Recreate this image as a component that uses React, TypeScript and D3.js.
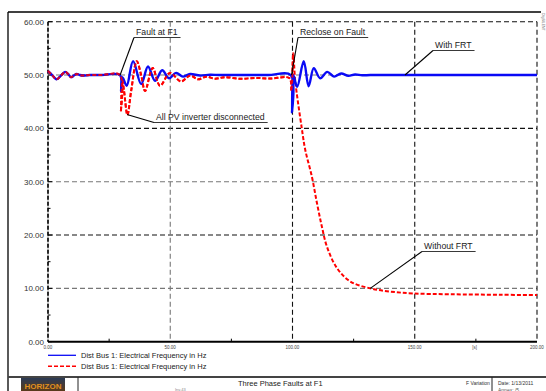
import React, { useEffect, useRef } from "react";
import * as d3 from "d3";

// With FRT (blue, solid)
const withFrtT = [0, 1.7, 3.5, 5.3, 7, 8.2, 9.4, 10.6, 11.7, 13, 14.5, 17, 22, 29.4, 29.9, 30.2, 30.7, 32.2, 34.8, 38.1, 40.9, 43.8, 46.7, 49.5, 52.4, 55.2, 58.1, 62.2, 66.3, 70, 80, 90, 99.3, 99.8, 100.3, 101.9, 104.6, 106.6, 108.7, 111.3, 114.2, 117, 119.9, 122.8, 125.6, 128.5, 131.8, 140, 160, 180, 200];
const withFrtHz = [50.75, 50.0, 49.2, 49.9, 50.6, 50.2, 49.6, 49.9, 50.2, 50.0, 49.9, 50.0, 50.0, 50.0, 47.0, 49.6, 49.4, 48.0, 52.6, 48.3, 51.6, 48.9, 50.9, 49.4, 50.4, 49.7, 50.2, 49.9, 50.05, 50.0, 50.0, 50.0, 50.0, 43.0, 50.0, 47.8, 52.6, 47.9, 51.3, 49.4, 50.6, 49.7, 50.3, 49.85, 50.1, 49.95, 50.0, 50.0, 50.0, 50.0, 50.0];

// Without FRT (red, dashed)
const noFrtT = [0, 1.7, 3.5, 5.3, 7, 8.2, 9.4, 10.6, 11.7, 13, 14.5, 17, 22, 29.4, 29.8, 30.4, 31.1, 32.5, 34.0, 36.3, 38.1, 39.7, 42.8, 45.8, 49.9, 54.4, 58.1, 61.4, 64.7, 68.3, 72.4, 78.6, 84.7, 90.9, 98.8, 99.5, 100.3, 101.1, 103.8, 105.2, 107.9, 110, 112, 114.1, 118.2, 123.6, 131.8, 140, 149.4, 164.5, 185, 200];
const noFrtHz = [50.75, 50.0, 49.2, 49.9, 50.6, 50.2, 49.6, 49.9, 50.2, 50.0, 49.9, 50.0, 50.0, 50.0, 43.1, 49.0, 47.0, 42.5, 47.0, 52.6, 50.0, 47.0, 51.3, 48.0, 50.4, 48.8, 49.9, 49.2, 49.7, 49.3, 49.6, 49.3, 49.45, 49.35, 49.4, 47.0, 54.1, 49.0, 40.0, 36.0, 31.0, 26.0, 21.6, 17.8, 13.8, 11.3, 10.0, 9.4, 9.05, 8.9, 8.8, 8.75];

const yTicks = [0, 10, 20, 30, 40, 50, 60];
const xTicks = [0, 50, 100, 150, 200];
const legendLabels = ["Dist Bus 1: Electrical Frequency in Hz", "Dist Bus 1: Electrical Frequency in Hz"];

// annotations: label, data point the leader points at, text position (px)
const notes = [
  { label: "Fault at F1", t: 29.5, v: 50, tx: 136, ty: 35 },
  { label: "All PV inverter disconnected", t: 32.3, v: 42.6, tx: 156, ty: 120 },
  { label: "Reclose on Fault", t: 99.6, v: 50, tx: 300, ty: 35 },
  { label: "With FRT", t: 146, v: 50, tx: 435, ty: 48 },
  { label: "Without FRT", t: 131.8, v: 10, tx: 424, ty: 249 },
];

const App = () => {
  const ref = useRef<SVGSVGElement>(null);

  useEffect(() => {
    const width = 546;
    const height = 391;
    const svg = d3.select(ref.current);
    svg.selectAll("*").remove();
    const font = "Liberation Sans, Arial, sans-serif";

    const x = d3.scaleLinear().domain([0, 200]).range([48, 537]);
    const y = d3.scaleLinear().domain([0, 60]).range([341.7, 21.7]);

    // outer frame
    svg.append("line").attr("x1", 8).attr("x2", 541).attr("y1", 12).attr("y2", 12)
      .attr("stroke", "#000").attr("stroke-width", 1.3);
    svg.append("line").attr("x1", 8).attr("x2", 8).attr("y1", 12).attr("y2", height)
      .attr("stroke", "#000").attr("stroke-width", 1.3);
    svg.append("line").attr("x1", 8).attr("x2", width).attr("y1", 377).attr("y2", 377)
      .attr("stroke", "#444").attr("stroke-width", 2);
    [78, 492].forEach(px => {
      svg.append("line").attr("x1", px).attr("x2", px).attr("y1", 377).attr("y2", height)
        .attr("stroke", "#222").attr("stroke-width", 1);
    });
    svg.append("text").attr("transform", "translate(542,13) rotate(90)")
      .attr("font-family", font).attr("font-size", 3.5).attr("fill", "#666").text("DIgSILENT");

    // gridlines
    yTicks.filter(d => d > 0).forEach(d => {
      svg.append("line").attr("x1", x(0)).attr("x2", x(200)).attr("y1", y(d)).attr("y2", y(d))
        .attr("stroke", d % 20 === 0 ? "#111" : "#777").attr("stroke-width", 1.1)
        .attr("stroke-dasharray", "5,3");
    });
    xTicks.filter(d => d > 0).forEach(d => {
      svg.append("line").attr("x1", x(d)).attr("x2", x(d)).attr("y1", y(60)).attr("y2", y(0))
        .attr("stroke", d === 50 ? "#777" : "#111").attr("stroke-width", 1.1)
        .attr("stroke-dasharray", "5,3");
    });

    // axes
    svg.append("line").attr("x1", x(0)).attr("x2", x(0)).attr("y1", y(60)).attr("y2", y(0))
      .attr("stroke", "#aaa").attr("stroke-width", 1);
    svg.append("line").attr("x1", x(0)).attr("x2", x(0)).attr("y1", y(60)).attr("y2", y(0))
      .attr("stroke", "#000").attr("stroke-width", 1.6).attr("stroke-dasharray", "4,2");
    svg.append("line").attr("x1", x(0)).attr("x2", x(200)).attr("y1", y(0)).attr("y2", y(0))
      .attr("stroke", "#000").attr("stroke-width", 2);

    d3.range(0, 61, 5).forEach(d => {
      svg.append("line").attr("x1", x(0)).attr("x2", x(0) + (d % 10 === 0 ? 4 : 2.5))
        .attr("y1", y(d)).attr("y2", y(d)).attr("stroke", "#000").attr("stroke-width", 1);
    });
    [25, 75, 125, 175].forEach(d => {
      svg.append("line").attr("x1", x(d)).attr("x2", x(d)).attr("y1", y(0)).attr("y2", y(0) - 3)
        .attr("stroke", "#000").attr("stroke-width", 1);
    });

    svg.append("g").selectAll("text").data(yTicks).enter().append("text")
      .attr("x", 44).attr("y", d => y(d) + 2.8).attr("text-anchor", "end")
      .attr("font-family", font).attr("font-size", 8).attr("fill", "#333")
      .text(d => d.toFixed(2));
    svg.append("g").selectAll("text").data(xTicks).enter().append("text")
      .attr("x", d => x(d)).attr("y", 348.5).attr("text-anchor", "middle")
      .attr("font-family", font).attr("font-size", 4.5).attr("fill", "#444")
      .text(d => d.toFixed(2));
    svg.append("text").attr("x", x(174.5)).attr("y", 348.5).attr("text-anchor", "middle")
      .attr("font-family", font).attr("font-size", 4.5).attr("fill", "#444").text("[s]");

    // curves
    const line = d3.line<[number, number]>()
      .x(d => x(d[0])).y(d => y(d[1]))
      .curve(d3.curveCatmullRom.alpha(0.5));

    const blue = withFrtT.map((t, i) => [t, withFrtHz[i]] as [number, number]);
    const red = noFrtT.map((t, i) => [t, noFrtHz[i]] as [number, number]);

    svg.append("path").attr("d", line(red)).attr("fill", "none")
      .attr("stroke", "#ff0000").attr("stroke-width", 2).attr("stroke-dasharray", "4,2");
    svg.append("path").attr("d", line(blue)).attr("fill", "none")
      .attr("stroke", "#0a0af5").attr("stroke-width", 2.4);
    svg.append("path").attr("d", line(red.filter(d => d[0] < 100.5))).attr("fill", "none")
      .attr("stroke", "#ff0000").attr("stroke-width", 2).attr("stroke-dasharray", "4,2")
      .attr("stroke-opacity", 0.85);

    // annotations
    notes.forEach(n => {
      const g = svg.append("g");
      const txt = g.append("text").attr("x", n.tx).attr("y", n.ty)
        .attr("font-family", font).attr("font-size", 8.7).attr("fill", "#222").text(n.label);
      const w = (txt.node() as SVGTextElement).getComputedTextLength();
      g.append("line").attr("x1", n.tx - 2).attr("x2", n.tx + w + 3)
        .attr("y1", n.ty + 2.5).attr("y2", n.ty + 2.5).attr("stroke", "#222").attr("stroke-width", 0.9);
      g.append("line").attr("x1", n.tx - 2).attr("y1", n.ty + 2.5)
        .attr("x2", x(n.t)).attr("y2", y(n.v)).attr("stroke", "#000").attr("stroke-width", 1.1);
    });

    // legend
    legendLabels.forEach((label, i) => {
      const ly = 355.3 + i * 11;
      svg.append("line").attr("x1", 48).attr("x2", 76).attr("y1", ly).attr("y2", ly)
        .attr("stroke", i === 0 ? "#0a0af5" : "#ff0000").attr("stroke-width", i === 0 ? 1.3 : 1.5)
        .attr("stroke-dasharray", i === 0 ? null : "4,2");
      svg.append("text").attr("x", 81).attr("y", ly + 2.7)
        .attr("font-family", font).attr("font-size", 7.5).attr("fill", "#222").text(label);
    });

    // footer
    const grad = svg.append("defs").append("linearGradient").attr("id", "logo")
      .attr("x1", 0).attr("x2", 0).attr("y1", 0).attr("y2", 1);
    grad.append("stop").attr("offset", "0%").attr("stop-color", "#2b3a55");
    grad.append("stop").attr("offset", "100%").attr("stop-color", "#5a3a1a");
    svg.append("rect").attr("x", 21).attr("y", 378).attr("width", 44).attr("height", 13)
      .attr("fill", "url(#logo)");
    svg.append("text").attr("x", 43).attr("y", 389).attr("text-anchor", "middle")
      .attr("font-family", font).attr("font-size", 8).attr("font-weight", "bold")
      .attr("fill", "#e0901e").text("HORIZON");
    svg.append("text").attr("x", 238).attr("y", 386)
      .attr("font-family", font).attr("font-size", 7.5).attr("fill", "#222").text("Three Phase Faults at F1");
    svg.append("text").attr("x", 175).attr("y", 391)
      .attr("font-family", font).attr("font-size", 4).attr("fill", "#888").text("Inv.43");
    svg.append("text").attr("x", 466).attr("y", 385)
      .attr("font-family", font).attr("font-size", 5).attr("fill", "#333").text("F Variation");
    svg.append("text").attr("x", 498).attr("y", 385)
      .attr("font-family", font).attr("font-size", 5).attr("fill", "#333").text("Date: 1/13/2011");
    svg.append("text").attr("x", 498).attr("y", 391.5)
      .attr("font-family", font).attr("font-size", 5).attr("fill", "#555").text("Annex:   /5");
  }, []);

  return (
    <svg ref={ref} width={546} height={391}
      style={{ position: "absolute", left: 0, top: 0, background: "#fff" }}></svg>
  );
};

export default App;
